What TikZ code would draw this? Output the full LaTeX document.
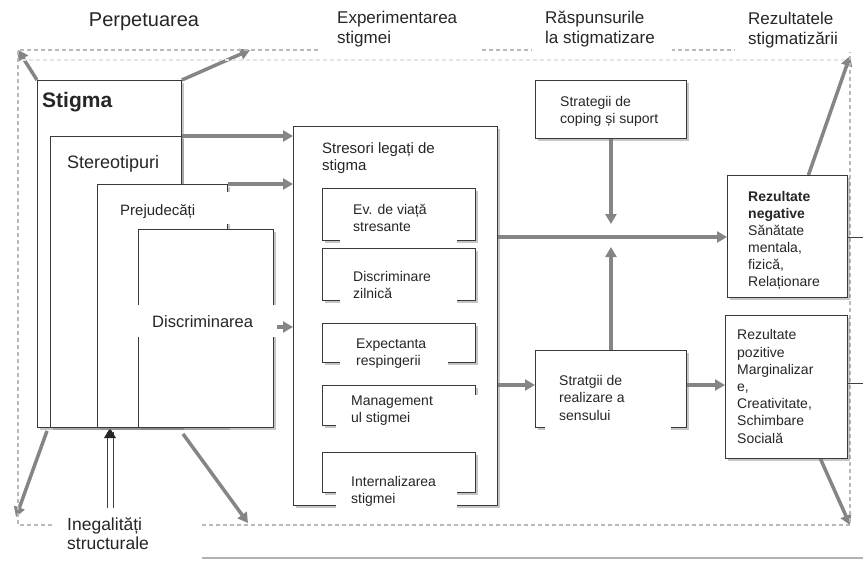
\documentclass[tikz,border=0pt]{standalone}
\usepackage{fontspec}
\setmainfont{Liberation Sans}
\usetikzlibrary{arrows.meta,shadows,calc}
\pgfdeclarelayer{bg}
\pgfsetlayers{bg,main}
\newcommand\myfs[2]{\fontsize{#1}{#2}\selectfont}
\begin{document}
\begin{tikzpicture}[x=1pt,y=-1pt,
  box/.style={draw=gray!45!black, line width=0.9pt, fill=white, inner sep=0pt, anchor=north west,
    drop shadow={shadow xshift=2.5pt, shadow yshift=-2.5pt, opacity=0.45}},
  lbl/.style={anchor=north west, inner sep=0pt, align=left, text=black!85},
  garrow/.style={draw=black!48, line width=3.5pt, -{Triangle[length=10pt,width=11pt]}},
  frame/.style={draw=gray!55, line width=1.2pt, dash pattern=on 4pt off 3pt},
]
\useasboundingbox (0,0) rectangle (863,562);
% frame
\coordinate (ftl) at (18,50); \coordinate (ftr) at (850,50);
\coordinate (fbl) at (18,525); \coordinate (fbr) at (850,525);
\draw[gray!20, line width=2pt, dash pattern=on 4pt off 3pt] (22,60) -- (846,60);
\draw[frame] (ftr) -- (ftl) -- (fbl) -- (fbr) -- (ftr);
\draw[gray!60, line width=1.5pt] (113,558) -- (863,558);
\draw[gray!50!black, line width=0.8pt] (107,432) -- (107,562) (113,432) -- (113,562);
\fill[black!85] (104,438) -- (110,428) -- (116,438) -- cycle;

% boxes
\node[box, minimum width=144, minimum height=347] (stigma) at (37,80) {};
\node[box, minimum width=131, minimum height=291] (stereo) at (50,136) {};
\node[box, minimum width=130, minimum height=243] (prej) at (97,184) {};
\node[box, minimum width=135, minimum height=198] (discr) at (138,229) {};
\node[box, minimum width=204, minimum height=379] (stresori) at (293,126) {};
\node[box, minimum width=153, minimum height=52] (ev) at (322,188) {};
\node[box, minimum width=153, minimum height=52] (dz) at (322,248) {};
\node[box, minimum width=153, minimum height=39] (ex) at (322,323) {};
\node[box, minimum width=153, minimum height=40] (mg) at (322,385) {};
\node[box, minimum width=153, minimum height=40] (in) at (322,452) {};
\node[box, minimum width=151, minimum height=58] (coping) at (535,80) {};
\node[box, minimum width=151, minimum height=77] (real) at (535,350) {};
\node[box, minimum width=120, minimum height=122] (rezneg) at (727,175) {};
\node[box, minimum width=122, minimum height=143] (rezpoz) at (725,315) {};

% arrows
\begin{pgfonlayer}{bg}
\coordinate (p2) at (250,50);
\coordinate (p3s) at ($(stigma.south west)+(10,3)$);
\coordinate (p3) at (16,517);
\coordinate (p4s) at ($(discr.south west)+(45,6)$);
\coordinate (p4) at (248,523);
\coordinate (p5s) at ($(rezneg.north)+(21,0)$);
\coordinate (p5) at (850,56);
\coordinate (p6s) at ($(rezpoz.south)+(34,0)$);
\coordinate (p6) at (850,525);
\draw[garrow] (stigma.north west) -- (ftl);
\draw[garrow] (stigma.north east) -- (p2);
\draw[garrow] (p3s) -- (p3);
\draw[garrow] (p4s) -- (p4);
\draw[garrow] (p5s) -- (p5);
\draw[garrow] (p6s) -- (p6);
\draw[garrow] (stereo.north east) -- (stresori.west |- stereo.north east);
\draw[garrow] (prej.north east) -- (stresori.west |- prej.north east);
\coordinate (dp) at (277,327);
\draw[garrow] (dp) -- (stresori.west |- dp);
\coordinate (jy) at (0,237);
\coordinate (j) at (coping.south |- jy);
\draw[garrow] (stresori.east |- j) -- (rezneg.west |- j);
\draw[garrow, shorten >=13pt] (coping.south) -- (j);
\draw[garrow, shorten >=10pt] (real.north) -- (j);
\coordinate (ky) at (0,385);
\draw[garrow] (stresori.east |- ky) -- (real.west |- ky);
\draw[garrow] (real.east |- ky) -- (rezpoz.west |- ky);
\end{pgfonlayer}
\coordinate (re1) at (863,237); \coordinate (re2) at (863,383);
\draw[gray!50!black, line width=0.8pt] (rezneg.east |- j) -- (re1);
\draw[gray!50!black, line width=0.8pt] (rezpoz.east |- re2) -- (re2);

% white patches
\fill[white] (320,0) rectangle (480,56);
\fill[white] (532,0) rectangle (672,56);
\fill[white] (735,0) rectangle (857,52);
\fill[white] (52,508) rectangle (202,562);
\fill[white] (100,192) rectangle (233,224);
\fill[white] (138,305) rectangle (277,337);
\fill[white] (340,197) rectangle (457,243);
\fill[white] (340,262) rectangle (457,310);
\fill[white] (340,327) rectangle (448,378);
\fill[white] (336,389) rectangle (470,433);
\fill[white] (453,395) rectangle (481,433);
\fill[white] (336,465) rectangle (457,514);
\fill[white] (545,420) rectangle (671,434);

% texts
\node[lbl, anchor=base, font=\myfs{20}{24}] (tperp) at (144,27) {Perpetuarea};
\node[lbl, font=\myfs{17}{20}] (texp) at (337,9.5) {\strut Experimentarea\\stigmei};
\node[lbl, font=\myfs{17}{20}] (tras) at (545,9.5) {\strut Răspunsurile\\la stigmatizare};
\node[lbl, font=\myfs{17}{20}] (trez) at (748,10) {\strut Rezultatele\\stigmatizării};
\node[lbl, font=\myfs{17.5}{19}] (tineg) at (67,516.5) {\strut Inegalități\\structurale};
\node[lbl, anchor=base west, font=\myfs{21}{25}\bfseries] (tstig) at (42,107) {Stigma};
\node[lbl, anchor=base west, font=\myfs{18}{21}] (tster) at (67,168) {Stereotipuri};
\node[lbl, anchor=base west, font=\myfs{15}{18}] (tprej) at (120,215) {Prejudecăți};
\node[lbl, anchor=base west, font=\myfs{16.5}{20}] (tdisc) at (152,327.5) {Discriminarea};
\node[lbl, font=\myfs{15}{17}] (tstr) at (322,141) {\strut Stresori legați de\\stigma};
\node[lbl, font=\myfs{14}{17}] (tev) at (353,202.7) {\strut Ev. de viață\\stresante};
\node[lbl, font=\myfs{14}{17}] (tdz) at (353,269.7) {\strut Discriminare\\zilnică};
\node[lbl, font=\myfs{14}{17}] (tex) at (356,336.7) {\strut Expectanta\\respingerii};
\node[lbl, font=\myfs{14}{17}] (tmg) at (351,393.7) {\strut Management\\ul stigmei};
\node[lbl, font=\myfs{14}{17}] (tin) at (351,474.7) {\strut Internalizarea\\stigmei};
\node[lbl, font=\myfs{14}{17}] (tcop) at (560,94.7) {\strut Strategii de\\coping și suport};
\node[lbl, font=\myfs{14}{17.5}] (treal) at (559,372.7) {\strut Stratgii de\\realizare a\\sensului};
\node[lbl, font=\myfs{14}{17}] (tneg) at (748,189.7) {\strut\textbf{Rezultate}\\\textbf{negative}\\Sănătate\\mentala,\\fizică,\\Relaționare};
\node[lbl, font=\myfs{14}{17.2}] (tpoz) at (737,327.7) {\strut Rezultate\\pozitive\\Marginalizar\\e,\\Creativitate,\\Schimbare\\Socială};
\end{tikzpicture}
\end{document}
